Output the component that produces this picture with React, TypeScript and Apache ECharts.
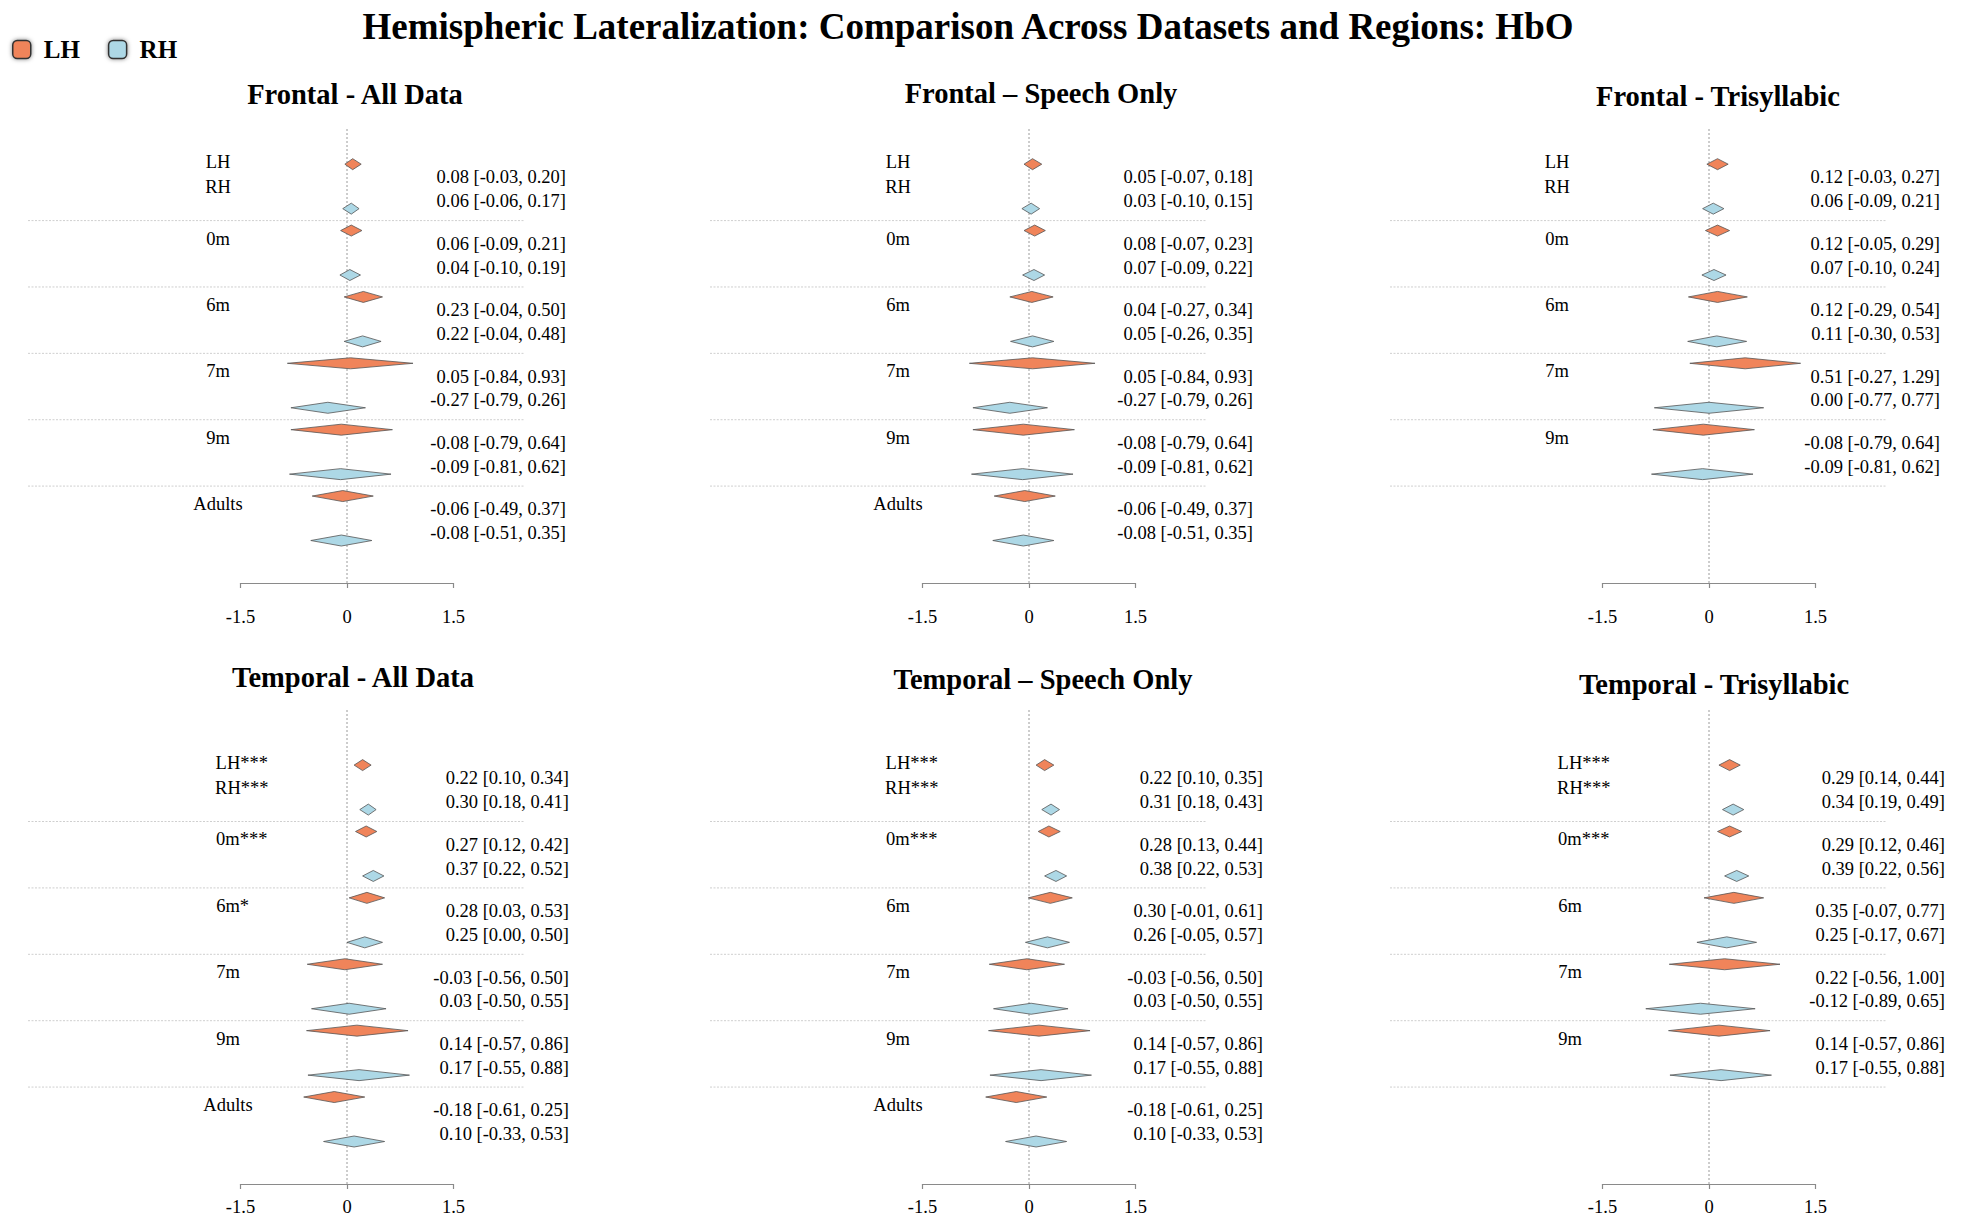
import React, { useEffect, useRef } from 'react';
import * as echarts from 'echarts';

// ---------- DATA ----------
const mainTitle = 'Hemispheric Lateralization: Comparison Across Datasets and Regions: HbO';
const panelTitles = [
  'Frontal - All Data',
  'Frontal \u2013 Speech Only',
  'Frontal - Trisyllabic',
  'Temporal - All Data',
  'Temporal \u2013 Speech Only',
  'Temporal - Trisyllabic',
];
const legendNames = ['LH', 'RH'];
const xTicks = [-1.5, 0, 1.5];

// rows: Overall, 0m, 6m, 7m, 9m, Adults ; each [estimate, lower, upper]
const frontalAllLH = [[0.08, -0.03, 0.20], [0.06, -0.09, 0.21], [0.23, -0.04, 0.50], [0.05, -0.84, 0.93], [-0.08, -0.79, 0.64], [-0.06, -0.49, 0.37]];
const frontalAllRH = [[0.06, -0.06, 0.17], [0.04, -0.10, 0.19], [0.22, -0.04, 0.48], [-0.27, -0.79, 0.26], [-0.09, -0.81, 0.62], [-0.08, -0.51, 0.35]];
const frontalAllLabels = ['LH', 'RH', '0m', '6m', '7m', '9m', 'Adults'];

const frontalSpeechLH = [[0.05, -0.07, 0.18], [0.08, -0.07, 0.23], [0.04, -0.27, 0.34], [0.05, -0.84, 0.93], [-0.08, -0.79, 0.64], [-0.06, -0.49, 0.37]];
const frontalSpeechRH = [[0.03, -0.10, 0.15], [0.07, -0.09, 0.22], [0.05, -0.26, 0.35], [-0.27, -0.79, 0.26], [-0.09, -0.81, 0.62], [-0.08, -0.51, 0.35]];
const frontalSpeechLabels = ['LH', 'RH', '0m', '6m', '7m', '9m', 'Adults'];

const frontalTriLH = [[0.12, -0.03, 0.27], [0.12, -0.05, 0.29], [0.12, -0.29, 0.54], [0.51, -0.27, 1.29], [-0.08, -0.79, 0.64]];
const frontalTriRH = [[0.06, -0.09, 0.21], [0.07, -0.10, 0.24], [0.11, -0.30, 0.53], [0.00, -0.77, 0.77], [-0.09, -0.81, 0.62]];
const frontalTriLabels = ['LH', 'RH', '0m', '6m', '7m', '9m'];

const temporalAllLH = [[0.22, 0.10, 0.34], [0.27, 0.12, 0.42], [0.28, 0.03, 0.53], [-0.03, -0.56, 0.50], [0.14, -0.57, 0.86], [-0.18, -0.61, 0.25]];
const temporalAllRH = [[0.30, 0.18, 0.41], [0.37, 0.22, 0.52], [0.25, 0.00, 0.50], [0.03, -0.50, 0.55], [0.17, -0.55, 0.88], [0.10, -0.33, 0.53]];
const temporalAllLabels = ['LH***', 'RH***', '0m***', '6m*', '7m', '9m', 'Adults'];

const temporalSpeechLH = [[0.22, 0.10, 0.35], [0.28, 0.13, 0.44], [0.30, -0.01, 0.61], [-0.03, -0.56, 0.50], [0.14, -0.57, 0.86], [-0.18, -0.61, 0.25]];
const temporalSpeechRH = [[0.31, 0.18, 0.43], [0.38, 0.22, 0.53], [0.26, -0.05, 0.57], [0.03, -0.50, 0.55], [0.17, -0.55, 0.88], [0.10, -0.33, 0.53]];
const temporalSpeechLabels = ['LH***', 'RH***', '0m***', '6m', '7m', '9m', 'Adults'];

const temporalTriLH = [[0.29, 0.14, 0.44], [0.29, 0.12, 0.46], [0.35, -0.07, 0.77], [0.22, -0.56, 1.00], [0.14, -0.57, 0.86]];
const temporalTriRH = [[0.34, 0.19, 0.49], [0.39, 0.22, 0.56], [0.25, -0.17, 0.67], [-0.12, -0.89, 0.65], [0.17, -0.55, 0.88]];
const temporalTriLabels = ['LH***', 'RH***', '0m***', '6m', '7m', '9m'];

const panelLH = [frontalAllLH, frontalSpeechLH, frontalTriLH, temporalAllLH, temporalSpeechLH, temporalTriLH];
const panelRH = [frontalAllRH, frontalSpeechRH, frontalTriRH, temporalAllRH, temporalSpeechRH, temporalTriRH];
const panelLabels = [frontalAllLabels, frontalSpeechLabels, frontalTriLabels, temporalAllLabels, temporalSpeechLabels, temporalTriLabels];

// ---------- LAYOUT / STYLE ----------
const SERIF = "'Liberation Serif', 'Times New Roman', serif";
const ORANGE = '#F0845A';
const BLUE = '#ADD8E6';
const EDGE = '#555555';
const ZERO_X = [347, 1029, 1709];
const HALF = 106.5;
const ROWS = [
  { top: 129, bottom: 583, ymin: -0.38, margin: 24 },
  { top: 710, bottom: 1184, ymin: -0.68, margin: 13 },
];
const YMAX = 6.46;
const TITLE_POS = [[355, 94], [1041, 93], [1718, 96], [353, 677], [1043, 679], [1714, 684]];
const LABEL_CX = [-129, -131, -152, -119, -131, -139];
const CI_RIGHT = [219, 224, 231, 222, 234, 236];
const SEP_LEFT = -319;
const SEP_RIGHT = 178;
const DIAMOND_H = 5.5;
const FS = 18.5;

const fmt = (v: number) => v.toFixed(2);

function buildOption() {
  const grids: any[] = [];
  const xAxes: any[] = [];
  const yAxes: any[] = [];
  const series: any[] = [];
  const graphics: any[] = [];

  graphics.push({
    type: 'text',
    x: 968,
    y: 26,
    style: { text: mainTitle, fontSize: 37, fontWeight: 'bold', fontFamily: SERIF, fill: '#000', align: 'center', verticalAlign: 'middle' },
  });

  for (let i = 0; i < 6; i++) {
    const col = i % 3;
    const row = Math.floor(i / 3);
    const R = ROWS[row];
    grids.push({ left: ZERO_X[col] - HALF, width: HALF * 2, top: R.top, height: R.bottom - R.top });
    xAxes.push({
      gridIndex: i,
      type: 'value',
      position: 'bottom',
      min: xTicks[0],
      max: xTicks[2],
      interval: 1.5,
      axisLine: { show: true, onZero: false, lineStyle: { color: '#8a8a8a', width: 1.2 } },
      axisTick: { show: true, length: 5, lineStyle: { color: '#8a8a8a', width: 1.2 } },
      axisLabel: { margin: R.margin, fontSize: FS, fontFamily: SERIF, color: '#000' },
      splitLine: { show: false },
    });
    yAxes.push({ gridIndex: i, type: 'value', inverse: true, min: R.ymin, max: YMAX, show: false });

    graphics.push({
      type: 'text',
      x: TITLE_POS[i][0],
      y: TITLE_POS[i][1],
      style: { text: panelTitles[i], fontSize: 28.5, fontWeight: 'bold', fontFamily: SERIF, fill: '#000', align: 'center', verticalAlign: 'middle' },
    });

    // zero reference line
    series.push({
      type: 'custom',
      name: 'zero' + i,
      xAxisIndex: i,
      yAxisIndex: i,
      z: 1,
      silent: true,
      data: [[0, R.ymin]],
      renderItem: (params: any, api: any) => {
        const a = api.coord([0, R.ymin]);
        const b = api.coord([0, YMAX]);
        return { type: 'line', shape: { x1: a[0], y1: a[1], x2: b[0], y2: b[1] }, style: { stroke: '#9a9a9a', lineWidth: 1, lineDash: [2, 2] } };
      },
    });

    // group separators
    series.push({
      type: 'custom',
      name: 'sep' + i,
      xAxisIndex: i,
      yAxisIndex: i,
      z: 1,
      silent: true,
      data: [1, 2, 3, 4, 5].map((g) => [0, g]),
      renderItem: (params: any, api: any) => {
        const p = api.coord([0, api.value(1)]);
        return { type: 'line', shape: { x1: p[0] + SEP_LEFT, y1: p[1], x2: p[0] + SEP_RIGHT, y2: p[1] }, style: { stroke: '#cfcfcf', lineWidth: 1, lineDash: [2, 1.5] } };
      },
    });

    // row labels
    const labs = panelLabels[i];
    const labY = labs.map((_, k) => (k === 0 ? 0.12 : k === 1 ? 0.49 : k - 1 + 0.27));
    series.push({
      type: 'custom',
      name: 'labels' + i,
      xAxisIndex: i,
      yAxisIndex: i,
      z: 2,
      silent: true,
      data: labY.map((y) => [0, y]),
      renderItem: (params: any, api: any) => {
        const txt = labs[params.dataIndex];
        const stars = (txt.match(/\*+$/) || [''])[0].length;
        const p = api.coord([0, api.value(1)]);
        return {
          type: 'text',
          x: p[0] + LABEL_CX[i] + stars * 4.6,
          y: p[1],
          style: { text: txt, fontSize: FS, fontFamily: SERIF, fill: '#000', align: 'center', verticalAlign: 'middle' },
        };
      },
    });

    // diamonds + CI text
    const mk = (vals: number[][], name: string, color: string, dy: number, ty: number) => ({
      type: 'custom',
      name,
      xAxisIndex: i,
      yAxisIndex: i,
      z: 3,
      itemStyle: { color },
      data: vals.map((v, g) => [v[0], g + dy, v[1], v[2], g + ty]),
      renderItem: (params: any, api: any) => {
        const est = api.value(0);
        const y = api.value(1);
        const lo = api.value(2);
        const hi = api.value(3);
        const pE = api.coord([est, y]);
        const pL = api.coord([lo, y]);
        const pH = api.coord([hi, y]);
        const pT = api.coord([0, api.value(4)]);
        return {
          type: 'group',
          children: [
            {
              type: 'polygon',
              shape: { points: [[pL[0], pE[1]], [pE[0], pE[1] - DIAMOND_H], [pH[0], pE[1]], [pE[0], pE[1] + DIAMOND_H]] },
              style: { fill: color, stroke: EDGE, lineWidth: 0.8 },
            },
            {
              type: 'text',
              x: pT[0] + CI_RIGHT[i],
              y: pT[1],
              style: {
                text: `${fmt(est)} [${fmt(lo)}, ${fmt(hi)}]`,
                fontSize: FS,
                fontFamily: SERIF,
                fill: '#000',
                align: 'right',
                verticalAlign: 'middle',
              },
            },
          ],
        };
      },
    });
    series.push(mk(panelLH[i], legendNames[0], ORANGE, 0.15, 0.35));
    series.push(mk(panelRH[i], legendNames[1], BLUE, 0.82, 0.71));
  }

  return {
    animation: false,
    backgroundColor: '#fff',
    legend: {
      data: legendNames,
      left: 12,
      top: 37,
      icon: 'roundRect',
      itemWidth: 18,
      itemHeight: 18,
      itemGap: 28,
      padding: 0,
      textStyle: { fontSize: 25, fontWeight: 'bold', fontFamily: SERIF, color: '#000', padding: [0, 0, 0, 8] },
      itemStyle: { borderColor: '#333', borderWidth: 1.5, shadowBlur: 4, shadowColor: 'rgba(0,0,0,0.5)' },
    },
    grid: grids,
    xAxis: xAxes,
    yAxis: yAxes,
    series,
    graphic: graphics,
  };
}

export default function App() {
  const ref = useRef<HTMLDivElement>(null);
  useEffect(() => {
    const chart = echarts.init(ref.current!, null, { renderer: 'svg' });
    chart.setOption(buildOption() as any);
    return () => chart.dispose();
  }, []);
  return <div ref={ref} style={{ position: 'absolute', left: 0, top: 0, width: 1965, height: 1221, background: '#fff' }} />;
}
